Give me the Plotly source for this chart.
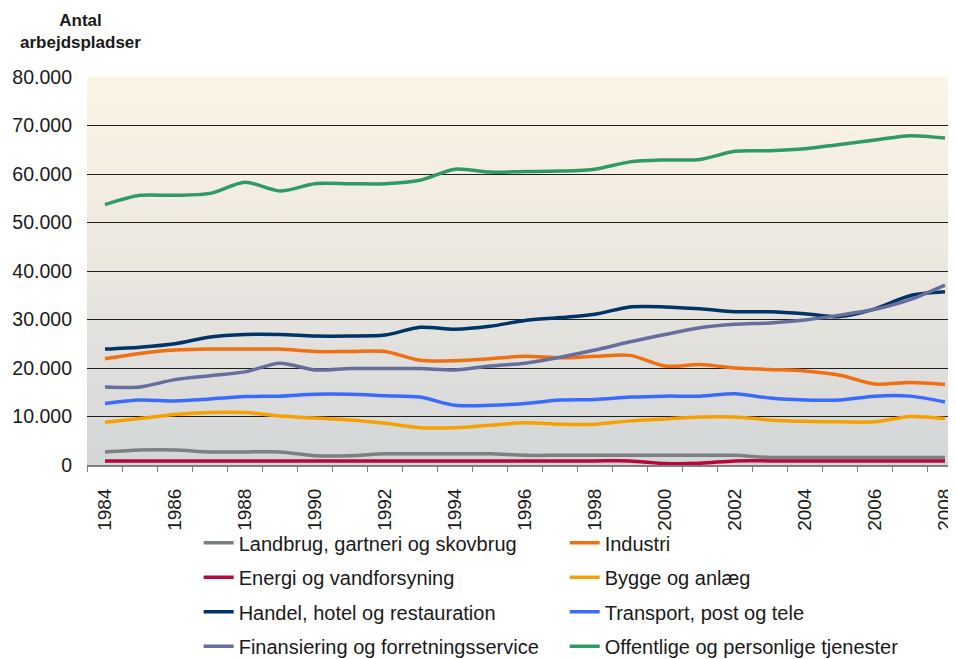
import plotly.graph_objects as go

YEARS = list(range(1984, 2009))

LANDBRUG = [2700, 3100, 3100, 2700, 2700, 2700, 1900, 1900, 2300, 2300, 2300, 2300, 2000,
            2000, 2000, 2000, 2000, 2000, 2000, 1550, 1550, 1550, 1550, 1550, 1550]
INDUSTRI = [21900, 23000, 23700, 23900, 23900, 23900, 23400, 23400, 23400, 21600, 21500, 21900, 22400,
            22100, 22400, 22600, 20400, 20700, 20000, 19700, 19400, 18500, 16700, 17000, 16600]
ENERGI = [850, 850, 850, 850, 850, 850, 850, 850, 850, 850, 850, 850, 850,
          850, 850, 850, 300, 350, 850, 850, 850, 850, 850, 850, 850]
BYGGE = [8800, 9600, 10400, 10800, 10800, 10100, 9700, 9300, 8600, 7700, 7700, 8200, 8700,
         8400, 8400, 9100, 9500, 9900, 9900, 9300, 9000, 8900, 8900, 10000, 9600]
HANDEL = [23900, 24300, 25000, 26400, 26900, 26900, 26600, 26600, 26800, 28400, 28000, 28600, 29800,
          30400, 31100, 32600, 32600, 32200, 31600, 31600, 31200, 30600, 32200, 34900, 35700]
TRANSPORT = [12700, 13400, 13200, 13600, 14100, 14200, 14600, 14600, 14300, 14000, 12300, 12300, 12700,
             13400, 13500, 14000, 14200, 14200, 14700, 13800, 13400, 13400, 14200, 14200, 13000]
FINANSIERING = [16100, 16100, 17600, 18400, 19200, 21000, 19600, 19900, 19900, 19900, 19600, 20400, 21000,
                22200, 23700, 25400, 26900, 28300, 29000, 29300, 29900, 30900, 32100, 34100, 37100]
OFFENTLIGE = [53700, 55600, 55600, 56000, 58300, 56500, 58000, 58000, 58000, 58700, 61000, 60400, 60500,
              60600, 61000, 62500, 62900, 63000, 64700, 64800, 65200, 66100, 67000, 67900, 67400]

# (name, values, colour, legend column)
SERIES = [
    ("Landbrug, gartneri og skovbrug", LANDBRUG, "#7b8083", "legend"),
    ("Industri", INDUSTRI, "#ef6f12", "legend2"),
    ("Energi og vandforsyning", ENERGI, "#b9063c", "legend"),
    ("Bygge og anlæg", BYGGE, "#f7a100", "legend2"),
    ("Handel, hotel og restauration", HANDEL, "#003366", "legend"),
    ("Transport, post og tele", TRANSPORT, "#3a6bff", "legend2"),
    ("Finansiering og forretningsservice", FINANSIERING, "#676e9c", "legend"),
    ("Offentlige og personlige tjenester", OFFENTLIGE, "#2f9a66", "legend2"),
]

FONT = "Arial, Liberation Sans, sans-serif"
TEXT_COLOR = "#1a1a1a"


def _mix(c1, c2, t):
    a = [int(c1[i:i + 2], 16) for i in (1, 3, 5)]
    b = [int(c2[i:i + 2], 16) for i in (1, 3, 5)]
    return "#" + "".join(f"{round(x + (y - x) * t):02x}" for x, y in zip(a, b))


def _gradient_shapes(top="#fcf4e5", mid="#ebe7e0", bottom="#d3d6d8", bands=60):
    # plot background fades from warm cream at the top to cool grey at the bottom
    shapes = []
    for i in range(bands):
        t = i / (bands - 1)
        col = _mix(top, mid, t * 2) if t < 0.5 else _mix(mid, bottom, (t - 0.5) * 2)
        shapes.append(dict(
            type="rect", xref="paper", yref="paper", layer="below",
            x0=0, x1=1, y1=1 - i / bands, y0=1 - (i + 1) / bands - 0.002,
            fillcolor=col, line=dict(width=0),
        ))
    return shapes


def _legend(x):
    return dict(
        x=x, y=-0.15, xanchor="left", yanchor="top",
        orientation="v", tracegroupgap=5.5, bgcolor="rgba(0,0,0,0)",
        font=dict(size=20), itemclick=False,
    )


fig = go.Figure()
for name, values, color, legend in SERIES:
    fig.add_trace(go.Scatter(
        x=YEARS, y=values, mode="lines", name=name,
        line=dict(color=color, width=3.5, shape="spline", smoothing=0.8),
        legend=legend, legendgroup=name,
    ))

# page body adds an 8px offset, so the figure is 8px smaller than the window
fig.update_layout(
    width=948, height=651,
    margin=dict(l=79, r=0, t=69, b=194, autoexpand=False),
    paper_bgcolor="white",
    plot_bgcolor="#e6e4df",
    separators=",.",
    font=dict(family=FONT, size=19, color=TEXT_COLOR),
    shapes=_gradient_shapes(),
    legend=_legend(0.1285),
    legend2=_legend(0.5497),
    annotations=[dict(
        text="<b>Antal<br>arbejdspladser</b>",
        xref="paper", yref="paper", x=-0.008, y=1.175,
        xanchor="center", yanchor="top", showarrow=False, align="center",
        font=dict(size=17, color=TEXT_COLOR),
    )],
)

fig.update_xaxes(
    range=[1983.486, 2008.315], automargin=False,
    tickmode="array", tickvals=YEARS[::2],
    tickangle=-90, ticks="", ticklen=0, ticklabelstandoff=14,
    ticklabeloverflow="allow",
    minor=dict(tick0=1983.5, dtick=1, ticks="outside", ticklen=5,
               tickcolor="#7f7f7f", tickwidth=1, showgrid=False),
    showgrid=False, zeroline=False,
    showline=True, linecolor="#7f7f7f", linewidth=2,
    tickfont=dict(size=19),
)
fig.update_yaxes(
    range=[0, 80000], dtick=10000, tickformat=",d", automargin=False,
    showgrid=True, gridcolor="#1e1e1e", gridwidth=1,
    zeroline=False, showline=False, ticks="",
    ticklabelstandoff=14,
    tickfont=dict(size=19.5),
)

fig.write_html("out.html")
